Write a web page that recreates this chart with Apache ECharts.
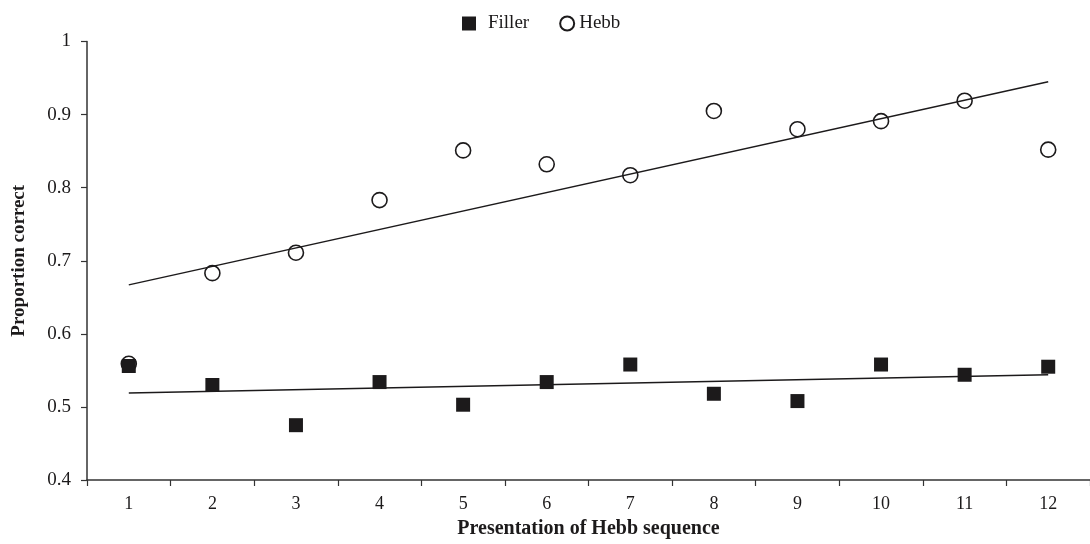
<!DOCTYPE html>
<html>
<head>
<meta charset="utf-8">
<script src="https://cdn.jsdelivr.net/npm/echarts@6/dist/echarts.min.js"></script>
<style>
  html, body { margin: 0; padding: 0; background: #fff; }
  #chart { width: 1090px; height: 544px; }
</style>
</head>
<body>
<div id="chart"></div>
<script>
const categories = ['1','2','3','4','5','6','7','8','9','10','11','12'];
const hebbValues = [0.559, 0.683, 0.711, 0.783, 0.851, 0.832, 0.817, 0.905, 0.880, 0.891, 0.919, 0.852];
const fillerValues = [0.556, 0.530, 0.475, 0.534, 0.503, 0.534, 0.558, 0.518, 0.508, 0.558, 0.544, 0.555];
const hebbTrend = [0.667, 0.945];     // fitted line at presentation 1 and 12
const fillerTrend = [0.519, 0.544];   // fitted line at presentation 1 and 12
const yTickLabels = ['0.4','0.5','0.6','0.7','0.8','0.9','1'];

const ink = '#1c1a1b';
const serif = '"Liberation Serif", "DejaVu Serif", serif';

const chart = echarts.init(document.getElementById('chart'), null, { renderer: 'canvas' });
chart.setOption({
  animation: false,
  backgroundColor: '#fff',
  textStyle: { fontFamily: serif, color: ink },
  legend: {
    data: [
      { name: 'Filler', textStyle: { padding: [0, 0, 0, 7] } },
      { name: 'Hebb', textStyle: { padding: [0, 0, 0, 0] } }
    ],
    left: 462,
    top: 14,
    padding: 0,
    itemWidth: 14,
    itemHeight: 14,
    itemGap: 30,
    textStyle: { fontFamily: serif, fontSize: 19, color: ink }
  },
  grid: { left: 87, top: 41.5, width: 1013, bottom: 61.5, containLabel: false },
  xAxis: {
    type: 'category',
    data: categories,
    boundaryGap: true,
    name: 'Presentation of Hebb sequence',
    nameLocation: 'middle',
    nameGap: 39,
    nameTextStyle: { fontFamily: serif, fontSize: 20, fontWeight: 'bold', color: ink },
    axisLine: { lineStyle: { color: '#333', width: 1.5 } },
    axisTick: { show: true, inside: false, length: 6, lineStyle: { color: '#333', width: 1.2 } },
    axisLabel: { fontFamily: serif, fontSize: 18, color: ink, margin: 15 },
    splitLine: { show: false }
  },
  yAxis: {
    type: 'value',
    min: 0.4,
    max: 1,
    interval: 0.1,
    name: 'Proportion correct',
    nameLocation: 'middle',
    nameGap: 58,
    nameTextStyle: { fontFamily: serif, fontSize: 19, fontWeight: 'bold', color: ink },
    axisLine: { show: true, lineStyle: { color: '#333', width: 1.5 } },
    axisTick: { show: true, inside: false, length: 6, lineStyle: { color: '#333', width: 1.2 } },
    axisLabel: {
      fontFamily: serif, fontSize: 19, color: ink, margin: 16,
      formatter: function (v, i) { return yTickLabels[i]; }
    },
    splitLine: { show: false }
  },
  series: [
    {
      name: 'Hebb',
      type: 'scatter',
      data: hebbValues,
      symbol: 'circle',
      symbolSize: 15,
      itemStyle: { color: 'rgba(255,255,255,0)', borderColor: ink, borderWidth: 1.6, opacity: 1 },
      z: 3
    },
    {
      name: 'Filler',
      type: 'scatter',
      data: fillerValues,
      symbol: 'rect',
      symbolSize: 14,
      itemStyle: { color: ink, opacity: 1 },
      z: 4
    },
    {
      name: 'Hebb trend',
      type: 'line',
      data: [[categories[0], hebbTrend[0]], [categories[categories.length - 1], hebbTrend[1]]],
      symbol: 'none',
      lineStyle: { color: ink, width: 1.5 },
      z: 2
    },
    {
      name: 'Filler trend',
      type: 'line',
      data: [[categories[0], fillerTrend[0]], [categories[categories.length - 1], fillerTrend[1]]],
      symbol: 'none',
      lineStyle: { color: ink, width: 1.5 },
      z: 2
    }
  ]
});
</script>
</body>
</html>
